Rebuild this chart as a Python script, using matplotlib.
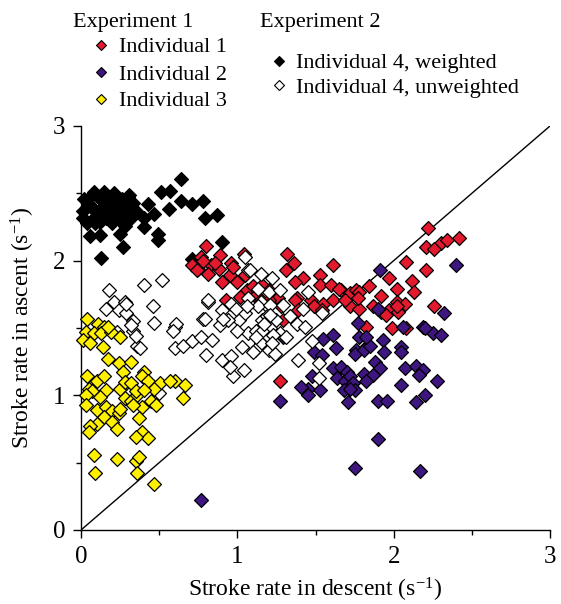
import matplotlib
matplotlib.use("Agg")
import matplotlib.pyplot as plt
from matplotlib.lines import Line2D

plt.rcParams['font.family'] = ['Liberation Serif', 'DejaVu Serif']
plt.rcParams['mathtext.fontset'] = 'custom'
plt.rcParams['mathtext.rm'] = 'Liberation Serif'
plt.rcParams['mathtext.it'] = 'Liberation Serif:italic'

# ---------------- data ----------------
black_x = [0.64, 0.51, 0.57, 0.43, 0.47, 0.56, 0.64, 0.71, 0.78, 0.79, 0.87, 0.40, 0.25, 0.27, 0.06, 0.12, 0.13, 0.90, 0.71, 0.495, 0.495,
           0.08, 0.15, 0.21, 0.31, 0.02, 0.04, 0.12, 0.19, 0.26, 0.01, 0.07, 0.14, 0.23, 0.29, 0.36, 0.40, 0.01, 0.08, 0.16, 0.24, 0.32, 0.04, 0.12, 0.20, 0.28,
           0.05, 0.10, 0.18, 0.27, 0.09, 0.22, 0.33, 0.15, 0.30]
black_y = [2.61, 2.51, 2.52, 2.42, 2.35, 2.38, 2.44, 2.42, 2.44, 2.32, 2.34, 2.25, 2.20, 2.10, 2.18, 2.19, 2.02, 2.14, 2.01, 2.20, 2.15,
           2.51, 2.51, 2.50, 2.49, 2.46, 2.45, 2.46, 2.45, 2.46, 2.37, 2.39, 2.40, 2.40, 2.37, 2.36, 2.32, 2.32, 2.32, 2.32, 2.31, 2.32, 2.28, 2.29, 2.28, 2.26,
           2.42, 2.36, 2.38, 2.42, 2.28, 2.35, 2.43, 2.44, 2.47]

white_x = [0.52, 0.40, 0.18, 0.21, 0.28, 0.16, 0.24, 0.29, 0.33, 0.46, 0.47, 0.60, 0.61, 0.59, 0.23, 0.33, 0.36, 0.38, 0.60, 0.65,
           0.71, 0.77, 0.84, 0.80, 0.90, 0.96, 0.97, 1.04, 0.95, 0.81, 0.78, 0.90, 0.89, 0.96, 1.01, 1.05, 1.07, 1.03, 1.12, 1.15,
           1.11, 1.20, 1.16, 1.19, 1.15, 1.07, 1.07, 1.15,
           1.05, 1.08, 1.22, 1.20, 1.13, 1.27, 1.13, 1.21, 1.29, 1.34, 1.38, 1.25, 1.19, 1.21, 1.27, 1.43, 1.45, 1.42, 1.54, 1.06,
           0.94, 0.99, 0.81, 0.79, 0.91, 1.00, 1.16,
           1.48, 1.39, 1.52, 1.52, 1.21, 1.17, 1.23, 1.20, 1.24, 1.31, 1.12, 1.22, 1.10,
           0.29, 0.32, 0.35, 0.50]
white_y = [1.86, 1.82, 1.78, 1.69, 1.69, 1.64, 1.63, 1.61, 1.55, 1.66, 1.54, 1.51, 1.53, 1.48, 1.47, 1.48, 1.37, 1.35, 1.35, 1.37,
           1.40, 1.43, 1.41, 1.30, 1.26, 1.29, 1.14, 1.19, 1.21, 1.69, 1.57, 1.63, 1.52, 1.68, 1.56, 1.61, 1.46, 1.36, 1.48, 1.39,
           1.34, 1.43, 1.56, 1.66, 1.69, 1.72, 1.93, 1.90,
           2.03, 1.93, 1.87, 1.77, 1.79, 1.78, 1.66, 1.67, 1.67, 1.59, 1.53, 1.56, 1.59, 1.50, 1.46, 1.51, 1.77, 1.64, 1.61, 1.66,
           1.56, 1.64, 1.71, 1.57, 1.57, 1.48, 1.48,
           1.40, 1.26, 1.24, 1.13, 1.60, 1.53, 1.45, 1.34, 1.31, 1.43, 1.43, 1.39, 1.32,
           1.68, 1.52, 1.44, 1.02]

red_x = [0.80, 0.89, 0.77, 0.75, 0.83, 0.88, 0.96, 0.95, 1.04, 0.90, 1.00, 1.06, 1.10, 1.16, 1.20, 1.26, 1.32, 1.36, 1.42, 1.37,
         1.38, 1.47, 1.53, 1.53, 1.61, 1.60, 1.66, 1.72, 1.55, 1.49, 1.54, 1.61, 1.76, 1.72, 1.02, 1.11, 1.15, 1.20, 0.93, 1.29,
         2.22, 2.42, 2.30, 2.34, 2.21, 2.26, 2.08, 2.21, 1.97, 2.12, 2.13, 2.02, 1.92, 1.84, 1.78, 1.69, 1.78, 1.87, 1.97, 2.02,
         2.07, 2.03, 2.26, 1.99,
         1.31, 1.65, 1.77, 1.92, 1.95, 2.02, 2.08, 1.82, 1.28, 1.37, 1.39, 1.27,
         0.71, 0.78, 0.86, 0.74, 0.81, 0.97, 1.05]
red_y = [2.11, 2.04, 2.03, 1.94, 1.97, 1.94, 1.98, 1.89, 2.05, 1.84, 1.84, 1.78, 1.81, 1.82, 1.78, 1.72, 2.05, 1.98, 1.87, 1.84,
         1.72, 1.71, 1.89, 1.82, 1.97, 1.82, 1.78, 1.76, 1.68, 1.66, 1.63, 1.71, 1.78, 1.66, 1.73, 1.74, 1.71, 1.71, 1.71, 1.56,
         2.24, 2.17, 2.13, 2.15, 2.10, 2.09, 1.99, 1.93, 1.87, 1.85, 1.77, 1.79, 1.74, 1.81, 1.77, 1.71, 1.64, 1.66, 1.63, 1.69,
         1.68, 1.62, 1.66, 1.50,
         1.93, 1.79, 1.72, 1.62, 1.60, 1.66, 1.50, 1.51, 1.66, 1.71, 1.63, 1.11,
         1.97, 2.00, 1.98, 1.93, 1.90, 1.95, 1.89]

purple_x = [1.77, 2.06, 2.19, 2.25, 1.55, 1.61, 1.63, 1.49, 1.54, 1.78, 1.83, 1.76, 1.75, 1.81, 1.93, 1.94, 2.05, 2.05, 2.20, 1.88,
            1.91, 1.61, 1.66, 1.70, 1.64, 1.69, 1.72, 1.74, 1.81, 1.87, 1.48, 1.45, 1.53, 1.68, 1.75, 1.71, 1.90, 1.96, 2.05, 2.07,
            2.14, 2.19, 2.14, 2.20, 2.28, 1.27, 1.29,
            1.90, 1.75, 2.17, 1.41, 1.45, 2.16, 2.30, 1.82, 1.85, 1.82, 1.72,
            1.91, 2.40, 2.32, 1.90, 0.77]
purple_y = [1.54, 1.51, 1.51, 1.46, 1.42, 1.45, 1.35, 1.32, 1.30, 1.43, 1.37, 1.34, 1.31, 1.34, 1.41, 1.32, 1.36, 1.32, 1.50, 1.25,
            1.20, 1.20, 1.21, 1.17, 1.13, 1.11, 1.14, 1.09, 1.16, 1.15, 1.14, 1.05, 1.04, 1.04, 1.04, 0.95, 0.96, 0.96, 1.08, 1.20,
            1.22, 1.19, 0.95, 1.00, 1.11, 0.96, 1.43,
            0.675, 0.46, 0.44, 1.06, 1.00, 1.15, 1.45, 1.11, 1.37, 1.43, 1.05,
            1.93, 1.97, 1.61, 1.64, 0.22]

yellow_x = [0.04, 0.11, 0.15, 0.03, 0.08, 0.13, 0.19, 0.015, 0.06, 0.14, 0.25, 0.17,
            0.17, 0.24, 0.32, 0.27, 0.40, 0.39, 0.04, 0.10, 0.15, 0.43, 0.505, 0.47, 0.60, 0.665, 0.57, 0.655,
            0.05, 0.07, 0.03, 0.16, 0.12, 0.25, 0.29, 0.28, 0.32, 0.36, 0.39, 0.33, 0.45, 0.48,
            0.03, 0.10, 0.16, 0.20, 0.24, 0.25, 0.15, 0.10, 0.06, 0.05, 0.20, 0.23, 0.37, 0.39, 0.43, 0.35,
            0.08, 0.23, 0.35, 0.37, 0.09, 0.36, 0.47, 0.28, 0.32, 0.35, 0.40]
yellow_y = [1.57, 1.53, 1.51, 1.47, 1.46, 1.46, 1.47, 1.41, 1.39, 1.36, 1.43, 1.51,
            1.27, 1.24, 1.25, 1.17, 1.17, 1.14, 1.14, 1.11, 1.14, 1.11, 1.09, 1.05, 1.11, 1.08, 1.11, 0.98,
            1.05, 1.03, 1.00, 1.04, 0.99, 1.05, 1.09, 0.98, 0.96, 1.00, 0.91, 0.93, 0.96, 0.93,
            0.93, 0.89, 0.91, 0.88, 0.87, 0.90, 0.84, 0.79, 0.77, 0.73, 0.80, 0.75, 0.83, 0.73, 0.68, 0.69,
            0.56, 0.53, 0.51, 0.54, 0.42, 0.42, 0.34, 1.10, 1.09, 1.03, 1.04]

x_ticks = [0, 1, 2, 3]
y_ticks = [0, 1, 2, 3]

RED = '#E31A2D'
PURPLE = '#3D1680'
YELLOW = '#FFF000'

# ---------------- figure ----------------
W, H = 561, 604
fig = plt.figure(figsize=(W / 100, H / 100), dpi=100)
ax = fig.add_axes([81 / W, 1 - 530 / H, (550 - 81) / W, (530 - 126) / H])

ax.plot([0, 3], [0, 3], color='black', lw=1.0, zorder=1)

S = 50
kw = dict(marker='D', s=S, edgecolors='black', linewidths=0.9, clip_on=False, zorder=3)
ax.scatter(black_x, black_y, c='black', **kw)
ax.scatter(red_x, red_y, c=RED, **kw)
ax.scatter(purple_x, purple_y, c=PURPLE, **kw)
ax.scatter(white_x, white_y, c='white', **kw)
ax.scatter(yellow_x, yellow_y, c=YELLOW, **kw)

ax.set_xlim(0, 3)
ax.set_ylim(0, 3)
ax.set_xticks(x_ticks)
ax.set_yticks(y_ticks)
ax.set_xticks([0.5, 1.5, 2.5], minor=True)
ax.set_yticks([0.5, 1.5, 2.5], minor=True)
for s in ['top', 'right']:
    ax.spines[s].set_visible(False)
for s in ['left', 'bottom']:
    ax.spines[s].set_linewidth(1.0)
ax.tick_params(which='major', direction='out', length=5.5, width=1.0, labelsize=18, pad=6)
ax.tick_params(which='minor', direction='out', length=3.5, width=1.0)

ax.set_xlabel('Stroke rate in descent (s$^{-1}$)', fontsize=17, labelpad=6)
ax.set_ylabel('Stroke rate in ascent (s$^{-1}$)', fontsize=17, labelpad=11)

# ---------------- legend (manual) ----------------
def fx(px):
    return px / W

def fy(py):
    return 1 - py / H

fs = 16
fig.text(fx(73), fy(27), 'Experiment 1', fontsize=fs, va='baseline', ha='left')
fig.text(fx(260), fy(27), 'Experiment 2', fontsize=fs, va='baseline', ha='left')

leg_items = [
    (100.7, 45, 119, 52.5, RED, 'Individual 1'),
    (100.7, 72, 119, 79.5, PURPLE, 'Individual 2'),
    (100.7, 99, 119, 106, YELLOW, 'Individual 3'),
    (279.3, 60.5, 296, 68, 'black', 'Individual 4, weighted'),
    (279.3, 85, 296, 92.5, 'white', 'Individual 4, unweighted'),
]
for mx, my, tx, ty, col, lab in leg_items:
    fig.add_artist(Line2D([fx(mx)], [fy(my)], marker='D', markersize=5.2,
                          markerfacecolor=col, markeredgecolor='black',
                          markeredgewidth=0.8, linestyle='none',
                          transform=fig.transFigure))
    fig.text(fx(tx), fy(ty), lab, fontsize=fs, va='baseline', ha='left')

fig.savefig('out.png', dpi=100)
